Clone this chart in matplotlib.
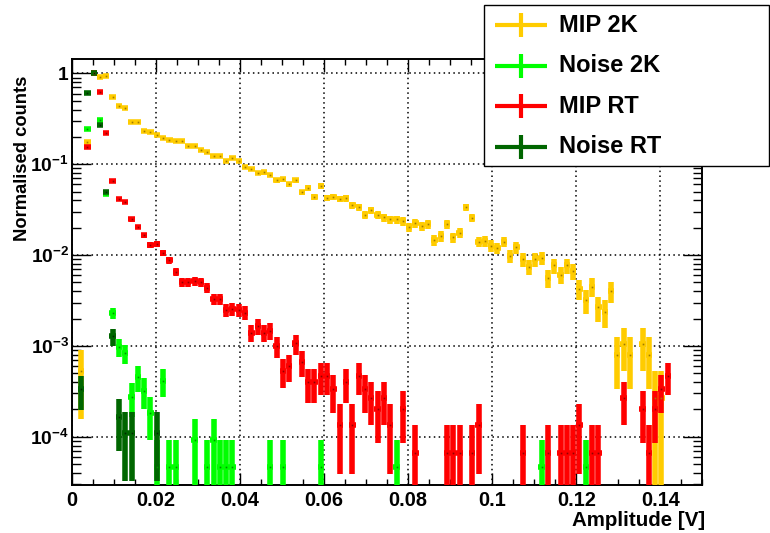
import numpy as np
import matplotlib
matplotlib.use("Agg")
import matplotlib.pyplot as plt
from matplotlib.ticker import FixedLocator, FuncFormatter, LogLocator, MultipleLocator, NullFormatter
from matplotlib.patches import Rectangle
from matplotlib.lines import Line2D

plt.rcParams.update({
    "font.family": ["Liberation Sans", "DejaVu Sans"],
    "font.weight": "bold",
    "mathtext.fontset": "custom",
    "mathtext.rm": "Liberation Sans:bold",
    "mathtext.it": "Liberation Sans:bold",
    "mathtext.bf": "Liberation Sans:bold",
    "mathtext.sf": "Liberation Sans:bold",
})

# Amplitude histograms: 100 bins of 1.5 mV between 0 and 0.15 V
bin_width = 0.0015
n_bins = 100

# Raw counts per bin (each series is normalised to its own maximum)
mip_2k_counts = [
    0, 2, 656, 3770, 3431, 3544, 2055, 1636, 1576, 1097,
    1097, 882, 863, 792, 739, 705, 675, 675, 592, 592,
    547, 509, 460, 460, 407, 437, 407, 354, 336, 302,
    307, 287, 253, 259, 228, 253, 185, 206, 166, 217,
    161, 166, 156, 159, 133, 127, 104, 117, 104, 98,
    93, 93, 89, 77, 84, 79, 82, 55, 61, 83,
    59, 66, 127, 97, 53, 54, 48, 45, 53, 37,
    46, 34, 28, 34, 35, 21, 29, 23, 29, 25,
    16, 12, 17, 10, 9, 15, 3, 4, 3, 0,
    4, 3, 1, 1, 0, 0, 0, 0, 0, 0,
]
noise_2k_counts = [
    0, 0, 5250, 21700, 6600, 1020, 50, 21, 18, 6,
    10, 7, 4, 1, 9, 1, 1, 0, 0, 2,
    0, 1, 2, 1, 1, 1, 0, 0, 0, 0,
    0, 1, 0, 1, 0, 0, 0, 0, 0, 1,
    0, 0, 0, 0, 0, 0, 0, 0, 0, 0,
    0, 1, 0, 0, 0, 0, 0, 0, 0, 0,
    0, 0, 0, 0, 0, 0, 0, 0, 0, 0,
    0, 0, 0, 0, 1, 0, 0, 0, 0, 0,
    0, 1, 0, 0, 0, 0, 0, 0, 0, 0,
    0, 0, 0, 0, 0, 0, 0, 0, 0, 0,
]
mip_rt_counts = [
    0, 0, 2340, 15000, 9420, 3285, 990, 625, 570, 370,
    306, 249, 194, 198, 158, 132, 98, 75, 75, 77,
    75, 65, 49, 49, 37, 38, 37, 35, 21, 25,
    21, 22, 15, 8, 9, 16, 10, 6, 6, 7,
    7, 5, 2, 6, 2, 7, 5, 4, 3, 4,
    2, 0, 3, 0, 1, 0, 0, 0, 0, 1,
    1, 1, 0, 1, 2, 0, 0, 0, 0, 0,
    0, 1, 0, 0, 0, 1, 0, 1, 1, 1,
    2, 0, 1, 1, 0, 0, 0, 4, 0, 0,
    3, 1, 3, 5, 7, 0, 0, 0, 0, 0,
]
noise_rt_counts = [
    0, 6, 10930, 18000, 4860, 900, 23, 3, 2, 2,
    0, 0, 0, 2, 0, 0, 0, 0, 0, 0,
] + [0] * 80

series_labels = ["MIP 2K", "Noise 2K", "MIP RT", "Noise RT"]
series_counts = [mip_2k_counts, noise_2k_counts, mip_rt_counts, noise_rt_counts]
series_colors = ["#ffcc00", "#00ff00", "#ff0000", "#006600"]
dot_colors = ["#a07a00", "#009000", "#900000", "#002800"]

x_ticks = [0, 0.02, 0.04, 0.06, 0.08, 0.1, 0.12, 0.14]
y_ticks = [1e-4, 1e-3, 1e-2, 1e-1, 1]
x_range = (0.0, 0.15)
y_range = (2.95e-5, 1.44)

W, H = 770, 533
fig = plt.figure(figsize=(W / 100, H / 100), dpi=100)
ax = fig.add_axes([71.6 / W, 1 - 485 / H, (702.5 - 71.6) / W, (485 - 59) / H])

centres = (np.arange(n_bins) + 0.5) * bin_width
for counts, color, dcol in zip(series_counts, series_colors, dot_colors):
    c = np.asarray(counts, dtype=float)
    peak = c.max()
    keep = c > 0
    val = c / peak
    err = np.sqrt(c) / peak
    lo = np.minimum(err, val - 1e-9)
    ax.errorbar(centres[keep], val[keep], xerr=bin_width / 2,
                yerr=[lo[keep], err[keep]], fmt="s", ms=1.2,
                mfc=dcol, mec="none", ecolor=color, elinewidth=4.0,
                capsize=0, zorder=3)

ax.set_yscale("log")
ax.set_xlim(*x_range)
ax.set_ylim(*y_range)

ax.xaxis.set_major_locator(FixedLocator(x_ticks))
ax.xaxis.set_minor_locator(MultipleLocator(0.005))
ax.xaxis.set_major_formatter(FuncFormatter(lambda v, p: "0" if v == 0 else f"{v:g}"))
ax.yaxis.set_major_locator(FixedLocator(y_ticks))
ax.yaxis.set_minor_locator(LogLocator(base=10, subs=np.arange(2, 10)))
ax.yaxis.set_minor_formatter(NullFormatter())


def ylab(v, p):
    e = int(round(np.log10(v)))
    return "1" if e == 0 else r"$10^{%d}$" % e


ax.yaxis.set_major_formatter(FuncFormatter(ylab))

ax.tick_params(which="both", direction="in", top=True, right=True, width=1.0)
ax.tick_params(axis="x", which="major", length=9, pad=4, labelsize=14.3)
ax.tick_params(axis="x", which="minor", length=4.5)
ax.tick_params(axis="y", which="major", length=13.5, pad=2, labelsize=13.8)
ax.tick_params(axis="y", which="minor", length=6.8)
for lab in ax.get_xticklabels() + ax.get_yticklabels():
    lab.set_fontweight("bold")
for s in ax.spines.values():
    s.set_linewidth(1.4)

ax.grid(True, which="major", color="black", linestyle=(0, (1, 2.2)), linewidth=1.1)
ax.set_axisbelow(True)

ax.set_xlabel("Amplitude [V]", fontsize=14.8, fontweight="bold", loc="right")
ax.xaxis.set_label_coords((705 - 71.6) / (702.5 - 71.6), -(521 - 485) / 426)
ax.xaxis.label.set_va("center")
ax.set_ylabel("Normalised counts", fontsize=13.2, fontweight="bold", loc="top")
ax.yaxis.set_label_coords((22 - 71.6) / (702.5 - 71.6), (485 - 76) / 426)
ax.yaxis.label.set_va("center")

# Legend box in the top-right corner
def fx(px):
    return px / W


def fy(py):
    return 1 - py / H


fig.add_artist(Rectangle((fx(484), fy(166)), fx(769) - fx(484), fy(5) - fy(166),
                         transform=fig.transFigure, facecolor="white",
                         edgecolor="black", linewidth=1.0, zorder=10))
for k, (label, color) in enumerate(zip(series_labels, series_colors)):
    yc = 25 + 40.6 * k
    fig.add_artist(Line2D([fx(495), fx(547)], [fy(yc), fy(yc)], color=color,
                          linewidth=3.0, solid_capstyle="butt",
                          transform=fig.transFigure, zorder=11))
    fig.add_artist(Line2D([fx(521), fx(521)], [fy(yc - 12), fy(yc + 12)],
                          color=color, linewidth=3.0, solid_capstyle="butt",
                          transform=fig.transFigure, zorder=11))
    fig.text(fx(559), fy(yc), label, fontsize=17, fontweight="bold",
             ha="left", va="center", zorder=12)

fig.savefig("out.png", dpi=100)
